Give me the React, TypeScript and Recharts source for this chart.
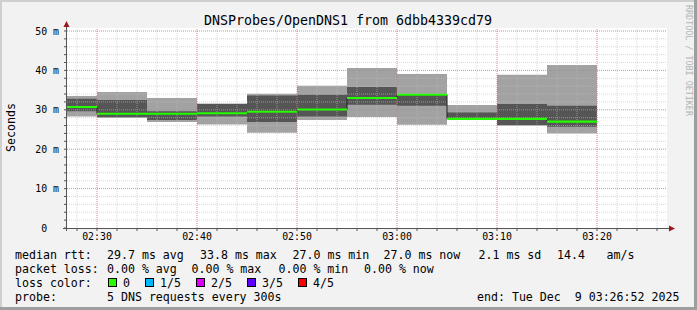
import { Area, CartesianGrid, ComposedChart, Line, ReferenceLine, XAxis, YAxis } from "recharts";

// rrd step end times (each value covers the 5 minutes before it)
const endTimes = ["02:30", "02:35", "02:40", "02:45", "02:50", "02:55", "03:00", "03:05", "03:10", "03:15", "03:20"];
// 5 sorted DNS pings per step, in ms
const pingMin = [28.3, 28.0, 26.9, 26.3, 24.2, 27.4, 28.2, 26.2, 27.4, 26.0, 24.0];
const ping2 = [29.6, 28.1, 27.4, 28.3, 26.9, 28.3, 31.3, 31.0, 27.5, 26.1, 25.7];
const median = [30.7, 29.0, 29.0, 29.1, 29.5, 30.1, 33.0, 33.8, 27.7, 27.7, 27.0];
const ping4 = [32.8, 32.5, 29.6, 31.5, 33.6, 33.8, 35.8, 34.0, 29.3, 31.5, 31.0];
const pingMax = [33.5, 34.5, 33.0, 31.6, 34.1, 36.1, 40.6, 39.1, 31.2, 38.9, 41.4];

const viewStart = "02:27";
const viewEnd = "03:27";
const stepMin = 5;
const yMax = 50.76;

const xTickLabels = ["02:30", "02:40", "02:50", "03:00", "03:10", "03:20"];
const yTickLabels = ["0", "10 m", "20 m", "30 m", "40 m", "50 m"];

const lossLabels = ["0", "1/5", "2/5", "3/5", "4/5"];
const lossColors = ["#26ff00", "#00b8ff", "#dd00ff", "#5e00ff", "#ff0000"];

const rttStats = ["29.7 ms avg", "33.8 ms max", "27.0 ms min", "27.0 ms now", "2.1 ms sd", "14.4", "am/s"];
const lossStats = ["0.00 % avg", "0.00 % max", "0.00 % min", "0.00 % now"];

const title = "DNSProbes/OpenDNS1 from 6dbb4339cd79";
const probeText = "5 DNS requests every 300s";
const endText = "end: Tue Dec  9 03:26:52 2025";

const toMin = (s: string) => {
  const [h, m] = s.split(":").map(Number);
  return h * 60 + m;
};

const row = (t: number, i: number) => ({
  t,
  smoke: [pingMin[i], pingMax[i]],
  core: [ping2[i], ping4[i]],
  med: median[i],
  medBand: [median[i] - 0.26, median[i] + 0.26],
});

// leading anchor so the first step is drawn over its whole interval
const data = [row(toMin(endTimes[0]) - stepMin, 0), ...endTimes.map((e, i) => row(toMin(e), i))];

const x0 = toMin(viewStart);
const x1 = toMin(viewEnd);
const xTicks: number[] = [];
for (let t = x0 + 1; t < x1; t += 2) xTicks.push(t);
const yTicks: number[] = [];
for (let v = 0; v <= 50; v += 2) yTicks.push(v);

const mono = "DejaVu Sans Mono";
const AXIS = "#555555";
const ARROW = "#9a1a1a";

const fmtX = (v: number) => {
  const lab = xTickLabels.find((l) => toMin(l) === v);
  return lab || "";
};

const YTick = (props: any) => {
  const { x, y, payload } = props;
  const v = payload.value;
  if (v % 10 !== 0) return null;
  const label = yTickLabels[v / 10];
  const fs = 9.9;
  return (
    <text x={v === 0 ? x - 2 * fs * 0.602 : x} y={y} dy="0.36em" textAnchor="end" fontFamily={mono} fontSize={fs} fill="#000">
      {label}
    </text>
  );
};

export default function App() {
  const W = 697;
  const H = 310;
  const lfs = 11.6;
  const legendX = [107, 200, 292.5, 383.5, 478.5, 557, 606.5];
  const lossX = [107, 191.5, 278.5, 364];
  const boxX = [108, 145, 196, 247, 298];
  const base = [258.5, 272.5, 286.5, 300.5];

  return (
    <div style={{ position: "absolute", left: 0, top: 0, width: W, height: H, background: "#f2f2f2", overflow: "hidden" }}>
      <ComposedChart width={W} height={H} data={data} margin={{ top: 28, right: 30, left: 0, bottom: 52 }}>
        <CartesianGrid fill="#ffffff" horizontal={false} vertical={false} stroke="none" />
        <XAxis
          dataKey="t"
          type="number"
          domain={[x0, x1]}
          allowDataOverflow
          ticks={xTicks}
          interval={0}
          tickFormatter={fmtX}
          height={30}
          tickSize={3}
          axisLine={false}
          tickLine={{ stroke: AXIS }}
          tick={{ fontSize: 9.9, fontFamily: mono, fill: "#000" }}
        />
        <YAxis
          type="number"
          domain={[0, yMax]}
          ticks={yTicks}
          interval={0}
          width={67}
          tickSize={3}
          tickMargin={5}
          axisLine={false}
          tickLine={{ stroke: AXIS }}
          tick={<YTick />}
        />
        <Area dataKey="smoke" type="stepBefore" stroke="none" fill="#a2a2a2" fillOpacity={1} isAnimationActive={false} zIndex={100} />
        <Area dataKey="core" type="stepBefore" stroke="none" fill="#555555" fillOpacity={1} isAnimationActive={false} zIndex={101} />
        {yTicks.filter((v) => v > 0).map((v) => (
          <ReferenceLine key={"hy" + v} y={v} stroke="#c0c0c0" strokeOpacity={0.6} strokeDasharray="1 1" zIndex={150} />
        ))}
        {xTicks.map((v) => (
          <ReferenceLine key={"vx" + v} x={v} stroke="#c0c0c0" strokeOpacity={0.6} strokeDasharray="1 1" zIndex={150} />
        ))}
        {yTicks.filter((v) => v > 0 && v % 10 === 0).map((v) => (
          <ReferenceLine key={"my" + v} y={v} stroke="#e04040" strokeOpacity={0.45} strokeDasharray="1 1" zIndex={151} />
        ))}
        {xTickLabels.map((l) => (
          <ReferenceLine key={"mx" + l} x={toMin(l)} stroke="#e04040" strokeOpacity={0.45} strokeDasharray="1 1" zIndex={151} />
        ))}
        <Line dataKey="med" type="stepBefore" stroke="#202020" strokeWidth={1} dot={false} activeDot={false} isAnimationActive={false} zIndex={400} />
        <Area dataKey="medBand" type="stepBefore" stroke="none" fill={lossColors[0]} fillOpacity={1} isAnimationActive={false} zIndex={450} />
      </ComposedChart>

      <svg width={W} height={H} style={{ position: "absolute", left: 0, top: 0, pointerEvents: "none" }}>
        {/* frame */}
        <rect x={0} y={0} width={W} height={2} fill="#cfcfcf" />
        <rect x={0} y={0} width={2} height={H} fill="#cfcfcf" />
        <rect x={W - 3} y={0} width={3} height={H} fill="#9e9e9e" />
        <rect x={0} y={H - 3} width={W} height={3} fill="#9e9e9e" />

        {/* axes with arrows */}
        <line x1={66.5} y1={231} x2={66.5} y2={26} stroke={AXIS} strokeWidth={1} />
        <line x1={63} y1={228.5} x2={670} y2={228.5} stroke={AXIS} strokeWidth={1} />
        <polygon points="63.5,27 69.5,27 66.5,21" fill={ARROW} />
        <polygon points="669,225.5 669,231.5 675,228.5" fill={ARROW} />

        <text x={348} y={24.8} textAnchor="middle" fontFamily={mono} fontSize={13.3} fill="#000">
          {title}
        </text>
        <text transform="translate(15,127.5) rotate(-90)" textAnchor="middle" fontFamily={mono} fontSize={lfs} fill="#000">
          Seconds
        </text>
        <text transform="translate(685.5,5) rotate(90)" fontFamily={mono} fontSize={8.4} fill="#b4b4b4">
          RRDTOOL / TOBI OETIKER
        </text>

        <g fontFamily={mono} fontSize={lfs} fill="#000" style={{ whiteSpace: "pre" }}>
          <text x={15} y={base[0]}>median rtt:</text>
          {rttStats.map((s, i) => (
            <text key={"r" + i} x={legendX[i]} y={base[0]}>{s}</text>
          ))}
          <text x={15} y={base[1]}>packet loss:</text>
          {lossStats.map((s, i) => (
            <text key={"l" + i} x={lossX[i]} y={base[1]}>{s}</text>
          ))}
          <text x={15} y={base[2]}>loss color:</text>
          {lossLabels.map((s, i) => (
            <g key={"c" + i}>
              <rect x={boxX[i] + 0.5} y={278.5} width={8} height={8} fill={lossColors[i]} stroke="#000" strokeWidth={1} />
              <text x={boxX[i] + 15} y={base[2]}>{s}</text>
            </g>
          ))}
          <text x={15} y={base[3]}>probe:</text>
          <text x={107} y={base[3]}>{probeText}</text>
          <text x={477} y={base[3]} xmlSpace="preserve">{endText}</text>
        </g>
      </svg>
    </div>
  );
}
